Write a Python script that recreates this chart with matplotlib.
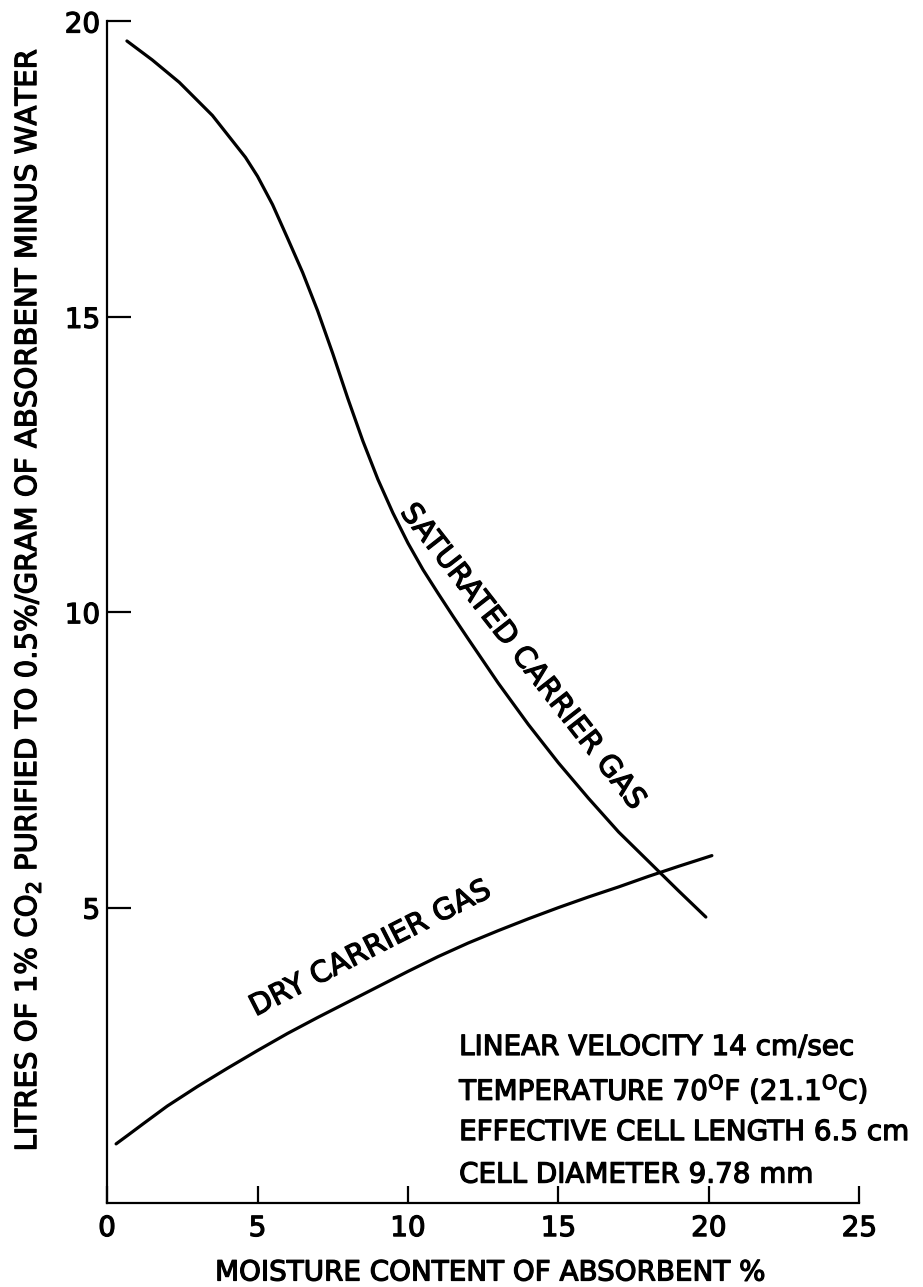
import matplotlib
matplotlib.use("Agg")
import matplotlib.pyplot as plt
import matplotlib.patheffects as pe

# curve values
saturated_x = [0.66, 1.5, 2.4, 3.5, 4.6, 5.0, 5.5, 6.0, 6.5, 7.0, 7.5, 8.0, 8.5, 9.0, 9.5,
               10.0, 10.5, 11.0, 11.5, 12.0, 13.0, 14.0, 15.0, 16.0, 17.0, 18.0, 19.0, 19.9]
saturated_y = [19.67, 19.35, 18.97, 18.41, 17.7, 17.38, 16.9, 16.33, 15.75, 15.1, 14.38, 13.62, 12.9, 12.25, 11.68,
               11.17, 10.72, 10.32, 9.93, 9.55, 8.8, 8.1, 7.45, 6.85, 6.28, 5.78, 5.28, 4.84]

dry_x = [0.3, 0.7, 1.2, 2.0, 3.0, 4.0, 5.0, 6.0, 7.0, 8.0, 9.0, 10.0, 11.0,
         12.0, 13.0, 14.0, 15.0, 16.0, 17.0, 18.0, 19.0, 20.1]
dry_y = [1.0, 1.15, 1.34, 1.64, 1.97, 2.28, 2.58, 2.87, 3.14, 3.4, 3.66, 3.92, 4.17,
         4.4, 4.61, 4.81, 5.0, 5.18, 5.35, 5.53, 5.7, 5.88]

x_ticks = [0, 5, 10, 15, 20, 25]
y_ticks = [5, 10, 15, 20]

conditions = [
    "LINEAR VELOCITY 14 cm/sec",
    r"TEMPERATURE 70$^{\mathrm{O}}$F (21.1$^{\mathrm{O}}$C)",
    "EFFECTIVE CELL LENGTH 6.5 cm",
    "CELL DIAMETER 9.78 mm",
]

plt.rcParams['font.family'] = ['DejaVu Sans']
plt.rcParams['mathtext.fontset'] = 'dejavusans'

# thicken the strokes a bit, the original lettering is heavy
heavy = [pe.withStroke(linewidth=0.9, foreground='black')]

fig = plt.figure(figsize=(9.23, 12.87), dpi=100)
ax = fig.add_axes([0.116, 0.0653, 0.815, 0.918])

ax.plot(saturated_x, saturated_y, color='black', linewidth=2.3, solid_capstyle='round')
ax.plot(dry_x, dry_y, color='black', linewidth=2.3, solid_capstyle='round')

ax.set_xlim(0, 25)
ax.set_ylim(0, 20)
ax.set_xticks(x_ticks)
ax.set_yticks(y_ticks)
ax.spines['top'].set_visible(False)
ax.spines['right'].set_visible(False)
ax.spines['left'].set_linewidth(1.6)
ax.spines['bottom'].set_linewidth(1.6)
ax.tick_params(axis='x', direction='in', length=12, width=1.6, pad=8, labelsize=20)
ax.tick_params(axis='y', direction='in', length=17, width=1.6, pad=5, labelsize=20)
for lbl in ax.get_xticklabels() + ax.get_yticklabels():
    lbl.set_path_effects(heavy)

xl = ax.set_xlabel("MOISTURE CONTENT OF ABSORBENT %", fontsize=20)
ax.xaxis.set_label_coords(0.509, -0.047)
yl = ax.set_ylabel("LITRES OF 1% CO$_2$ PURIFIED TO 0.5%/GRAM OF ABSORBENT MINUS WATER", fontsize=21)
ax.yaxis.set_label_coords(-0.085, 0.51)
xl.set_path_effects(heavy)
yl.set_path_effects(heavy)

ax.text(13.8, 9.25, "SATURATED CARRIER GAS", rotation=-52, fontsize=21,
        ha='center', va='center', rotation_mode='anchor', path_effects=heavy)
ax.text(8.75, 4.3, "DRY CARRIER GAS", rotation=27, fontsize=21,
        ha='center', va='center', rotation_mode='anchor', path_effects=heavy)

for i, line in enumerate(conditions):
    ax.text(11.7, 2.64 - i * 0.72, line, fontsize=20, ha='left', va='center', path_effects=heavy)

fig.savefig("out.png", dpi=100)
